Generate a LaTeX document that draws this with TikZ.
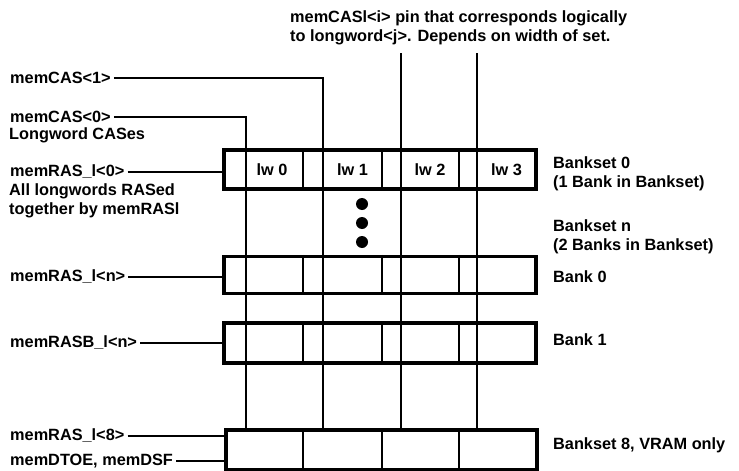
\documentclass[tikz,border=0pt]{standalone}
\usepackage{fontspec}
\setmainfont{Liberation Sans}
\usetikzlibrary{positioning}

\begin{document}
\begin{tikzpicture}[
                x=1pt, y=-1pt,
                % Box Styles
                rowBox/.style = {rectangle, draw, line width=3.2pt, minimum width=312pt, inner sep=0pt},
                cellText/.style = {font=\fontsize{16.3}{19.5}\selectfont\bfseries},
                sigLabel/.style = {anchor=west, inner sep=3pt, font=\fontsize{16.3}{19.5}\selectfont\bfseries},
                noteText/.style = {align=left, inner sep=2pt, font=\fontsize{16.3}{19.5}\selectfont\bfseries},
                dotMark/.style = {circle, fill, inner sep=0pt, minimum size=12pt},
                % Line Styles
                cellLine/.style = {line width=2.2pt},
                sigLine/.style = {line width=2.2pt}
            ]
                \useasboundingbox (0,0) rectangle (739,471);

                % ==========================================
                % BANK ROWS
                % ==========================================
                \node[rowBox, minimum height=39pt] (BS0) at (380,169.5) {};
                \node[rowBox, minimum height=37pt] (BK0) at (380,275) {};
                \node[rowBox, minimum height=40pt] (BK1) at (380,343) {};
                \node[rowBox, minimum height=40pt, minimum width=311pt] (BS8) at (381.5,450) {};

                % Column positions (small cell | longword cell)
                \foreach \x [count=\i] in {246,303,323,382,401,459,477}
                    \coordinate (col\i) at (\x,0);

                % Cell dividers
                \foreach \r in {BS0,BK0,BK1,BS8}
                    \foreach \i in {2,4,6}
                        \draw[cellLine] (\r.north -| col\i) -- (\r.south -| col\i);

                % Longword labels
                \foreach \x [count=\n from 0] in {272,352.5,430,506.5}
                    \node[cellText] (lw\n) at (\x,169.5) {lw \n};

                % Banksets between
                \foreach \y [count=\i] in {204,223,242}
                    \node[dotMark] (dot\i) at (362,\y) {};

                % ==========================================
                % CAS LINES
                % ==========================================
                \node[sigLabel] (casOne) at (7,78) {memCAS<1>};
                \node[sigLabel] (casZero) at (7,117) {memCAS<0>};
                \node[noteText, anchor=north west] (casNote) at (casZero.south west) {Longword CASes};

                \draw[sigLine] (casOne.east) -| (BS8.north -| col3);
                \draw[sigLine] (casZero.east) -| (BS8.north -| col1);

                \node[noteText, anchor=north west] (pinNote) at (288,8)
                    {memCASl<i> pin that corresponds logically\\to longword<j>. Depends on width of set.};
                \coordinate (pinI) at (401,53);
                \coordinate (pinJ) at (477,53);
                \draw[sigLine] (pinI) -- (BS8.north -| pinI);
                \draw[sigLine] (pinJ) -- (BS8.north -| pinJ);

                % ==========================================
                % RAS LINES
                % ==========================================
                \node[sigLabel] (rasZero) at (7,172) {memRAS\_l<0>};
                \node[noteText, anchor=north west] (rasNote) at ([yshift=1pt]rasZero.south west) {All longwords RASed\\together by memRASl};
                \node[sigLabel] (rasN) at (7,277) {memRAS\_l<n>};
                \node[sigLabel] (rasBN) at (7,343) {memRASB\_l<n>};
                \node[sigLabel] (rasEight) at (7,436) {memRAS\_l<8>};
                \node[sigLabel] (dtoe) at (7,461) {memDTOE, memDSF};

                \draw[sigLine] (rasZero.east) -- (rasZero.east -| BS0.west);
                \draw[sigLine] (rasN.east) -- (rasN.east -| BK0.west);
                \draw[sigLine] (rasBN.east) -- (rasBN.east -| BK1.west);
                \draw[sigLine] (rasEight.east) -- (rasEight.east -| BS8.west);
                \draw[sigLine] (dtoe.east) -- (dtoe.east -| BS8.west);

                % Row titles
                \node[noteText, anchor=west] (lblBS0) at (551,174) {Bankset 0\\(1 Bank in Bankset)};
                \node[noteText, anchor=west] (lblBSn) at (551,237) {Bankset n\\(2 Banks in Bankset)};
                \node[noteText, anchor=west] (lblBK0) at (551,277) {Bank 0};
                \node[noteText, anchor=west] (lblBK1) at (551,340) {Bank 1};
                \node[noteText, anchor=west] (lblBS8) at (551,445) {Bankset 8, VRAM only};

            \end{tikzpicture}
\end{document}
